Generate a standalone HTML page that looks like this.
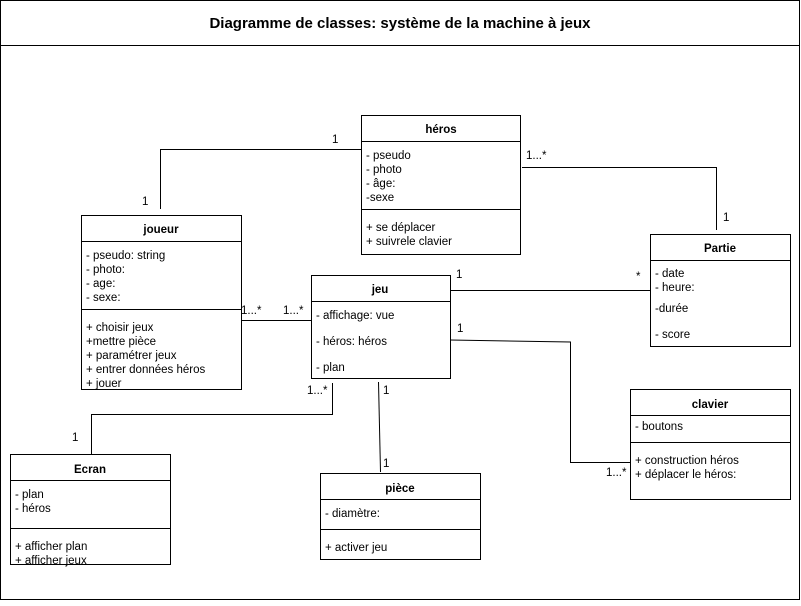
<!DOCTYPE html>
<html><head><meta charset="utf-8"><style>
body{margin:0;background:#fff}
svg text{font-family:"Liberation Sans",Arial,sans-serif;font-size:11.5px;fill:#000}
.b{font-weight:bold}
.m{fill:#333}
</style></head><body>
<svg width="801" height="601" xmlns="http://www.w3.org/2000/svg">
<rect x="0.5" y="0.5" width="799" height="599" fill="#fff" stroke="#000"/>
<line x1="0" y1="45.5" x2="800" y2="45.5" stroke="#000"/>
<text x="400" y="28" text-anchor="middle" class="b" style="font-size:15px">Diagramme de classes: système de la machine à jeux</text>
<g fill="none" stroke="#000" stroke-width="1">
<polyline points="361,149.5 160.5,149.5 160.5,209"/>
<polyline points="522,167.5 716.5,167.5 716.5,230"/>
<line x1="241" y1="320.5" x2="311" y2="320.5"/>
<line x1="450" y1="290.5" x2="650" y2="290.5"/>
<polyline points="450,340 570.5,342 570.5,462.5 630,462.5"/>
<polyline points="332.5,383 332.5,414.5 91.5,414.5 91.5,454"/>
<line x1="378.5" y1="382" x2="380.5" y2="472"/>
</g>
<g fill="#fff" stroke="#000">
<rect x="361.5" y="115.5" width="159" height="139"/>
<rect x="81.5" y="215.5" width="160" height="174"/>
<rect x="311.5" y="275.5" width="139" height="103"/>
<rect x="650.5" y="234.5" width="140" height="112"/>
<rect x="630.5" y="389.5" width="160" height="110"/>
<rect x="10.5" y="454.5" width="160" height="110"/>
<rect x="320.5" y="473.5" width="160" height="86"/>
</g>
<g stroke="#000">
<line x1="361" y1="141.5" x2="521" y2="141.5"/><line x1="361" y1="209.5" x2="521" y2="209.5"/>
<line x1="81" y1="241.5" x2="242" y2="241.5"/><line x1="81" y1="309.5" x2="242" y2="309.5"/>
<line x1="311" y1="301.5" x2="451" y2="301.5"/>
<line x1="650" y1="260.5" x2="791" y2="260.5"/>
<line x1="630" y1="415.5" x2="791" y2="415.5"/><line x1="630" y1="442.5" x2="791" y2="442.5"/>
<line x1="10" y1="480.5" x2="171" y2="480.5"/><line x1="10" y1="528.5" x2="171" y2="528.5"/>
<line x1="320" y1="499.5" x2="481" y2="499.5"/><line x1="320" y1="529.5" x2="481" y2="529.5"/>
</g>
<text x="441" y="133" text-anchor="middle" class="b">héros</text>
<text x="366" y="159">- pseudo</text><text x="366" y="173">- photo</text><text x="366" y="187">- âge:</text><text x="366" y="201">-sexe</text>
<text x="366" y="231">+ se déplacer</text><text x="366" y="245">+ suivrele clavier</text>
<text x="161" y="233" text-anchor="middle" class="b">joueur</text>
<text x="86" y="259">- pseudo: string</text><text x="86" y="273">- photo:</text><text x="86" y="287">- age:</text><text x="86" y="301">- sexe:</text>
<text x="86" y="331">+ choisir jeux</text><text x="86" y="345">+mettre pièce</text><text x="86" y="359">+ paramétrer jeux</text><text x="86" y="373">+ entrer données héros</text><text x="86" y="387">+ jouer</text>
<text x="380" y="293" text-anchor="middle" class="b">jeu</text>
<text x="316" y="319">- affichage: vue</text><text x="316" y="345">- héros: héros</text><text x="316" y="371">- plan</text>
<text x="720" y="252" text-anchor="middle" class="b">Partie</text>
<text x="655" y="277">- date</text><text x="655" y="291">- heure:</text><text x="655" y="312">-durée</text><text x="655" y="338">- score</text>
<text x="710" y="408" text-anchor="middle" class="b">clavier</text>
<text x="635" y="430">- boutons</text>
<text x="635" y="464">+ construction héros</text><text x="635" y="478">+ déplacer le héros:</text>
<text x="90" y="473" text-anchor="middle" class="b">Ecran</text>
<text x="15" y="498">- plan</text><text x="15" y="512">- héros</text>
<text x="15" y="550">+ afficher plan</text><text x="15" y="564">+ afficher jeux</text>
<text x="400" y="492" text-anchor="middle" class="b">pièce</text>
<text x="325" y="517">- diamètre:</text>
<text x="325" y="551">+ activer jeu</text>
<g class="m">
<text x="332" y="143">1</text><text x="142" y="205">1</text>
<text x="526" y="159">1...*</text><text x="723" y="221">1</text>
<text x="241" y="314">1...*</text><text x="283" y="314">1...*</text>
<text x="456" y="278">1</text><text x="636" y="280">*</text>
<text x="457" y="332">1</text><text x="606" y="476">1...*</text>
<text x="307" y="394">1...*</text><text x="72" y="441">1</text>
<text x="383" y="394">1</text><text x="383" y="467">1</text>
</g>
</svg>
</body></html>
